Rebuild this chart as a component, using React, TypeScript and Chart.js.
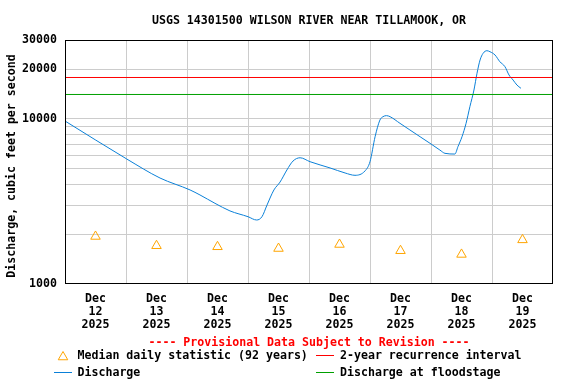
import React, { useEffect, useRef } from "react";
import { Chart, registerables } from "chart.js";

Chart.register(...registerables);

const titleText = "USGS 14301500 WILSON RIVER NEAR TILLAMOOK, OR";
const yAxisTitle = "Discharge, cubic feet per second";
const provisionalText = "---- Provisional Data Subject to Revision ----";

// hours since Dec 12 2025 00:00
const dischargeHours = [0, 24.3, 37.4, 49.2, 53.1, 59.0, 64.9, 72.0, 75.4, 77.5, 79.5, 82.2, 84.6, 87.3, 89.7, 92.5, 96.4, 104.3, 110.2, 114.1, 118.0, 120.0, 122.0, 123.9, 125.1, 126.5, 127.9, 131.8, 135.7, 139.7, 143.6, 147.5, 149.5, 153.4, 154.6, 156.2, 157.8, 159.3, 160.9, 162.1, 163.3, 164.5, 166.0, 167.2, 169.2, 171.1, 173.1, 174.7, 176.3, 177.8, 179.4];
const dischargeCfs = [9700, 5710, 4380, 3710, 3460, 3080, 2770, 2555, 2440, 2555, 3010, 3710, 4140, 4900, 5550, 5810, 5500, 5040, 4700, 4550, 4830, 5500, 7790, 9830, 10300, 10450, 10300, 9390, 8560, 7790, 7110, 6470, 6180, 6120, 6780, 7790, 9390, 11840, 14940, 18860, 22700, 24920, 25840, 25480, 24330, 22160, 20680, 18410, 17170, 16020, 15300];

const medianHours = [12, 36, 60, 84, 108, 132, 156, 180];
const medianCfs = [1940, 1705, 1680, 1640, 1735, 1590, 1510, 1850];

const recurrence2yr = 17790;
const floodstage = 14040;

const xMin = 0;
const xMax = 192;
const dayMonth = "Dec";
const dayNumbers = ["12", "13", "14", "15", "16", "17", "18", "19"];
const dayYear = "2025";

const yMin = 1000;
const yMax = 30000;
const yGridValues = [1000, 2000, 3000, 4000, 5000, 6000, 7000, 8000, 9000, 10000, 20000, 30000];
const yLabeledValues = [1000, 10000, 20000, 30000];

const legendMedian = "Median daily statistic (92 years)";
const legendRecurrence = "2-year recurrence interval";
const legendDischarge = "Discharge";
const legendFlood = "Discharge at floodstage";

const FONT = "'DejaVu Sans Mono', 'Liberation Mono', monospace";
const BLUE = "#0a80d8";
const RED = "#ff0000";
const GREEN = "#00a000";
const ORANGE = "#ffa500";
const GRID = "#cccccc";

function triangle(ctx: CanvasRenderingContext2D, x: number, y: number, r: number) {
  ctx.beginPath();
  ctx.moveTo(x, y - r);
  ctx.lineTo(x + r * Math.sin(Math.PI / 3), y + r * 0.5);
  ctx.lineTo(x - r * Math.sin(Math.PI / 3), y + r * 0.5);
  ctx.closePath();
  ctx.stroke();
}

function hline(ctx: CanvasRenderingContext2D, x0: number, x1: number, y: number, color: string) {
  ctx.strokeStyle = color;
  ctx.lineWidth = 1;
  ctx.beginPath();
  ctx.moveTo(x0, Math.floor(y) + 0.5);
  ctx.lineTo(x1, Math.floor(y) + 0.5);
  ctx.stroke();
}

const decorPlugin = {
  id: "decor",
  afterDraw(chart: any) {
    const ctx: CanvasRenderingContext2D = chart.ctx;
    const a = chart.chartArea;
    ctx.save();
    // frame
    ctx.strokeStyle = "#000";
    ctx.lineWidth = 1;
    ctx.strokeRect(Math.round(a.left) + 0.5, Math.round(a.top) + 0.5, Math.round(a.right - a.left) - 1, Math.round(a.bottom - a.top) - 1);

    ctx.font = `bold 11.6px ${FONT}`;
    ctx.fillStyle = "#000";
    ctx.textBaseline = "middle";
    // title
    ctx.textAlign = "center";
    const cx = (a.left + a.right) / 2;
    ctx.fillText(titleText, cx, 21);
    // y axis title
    ctx.save();
    ctx.translate(12, 166);
    ctx.rotate(-Math.PI / 2);
    ctx.fillText(yAxisTitle, 0, 0);
    ctx.restore();
    // provisional
    ctx.fillStyle = "#ff0000";
    ctx.fillText(provisionalText, cx, 342.5);

    // legend
    ctx.textAlign = "left";
    ctx.fillStyle = "#000";
    const r1 = 356;
    const r2 = 372.5;
    ctx.strokeStyle = ORANGE;
    ctx.lineWidth = 1;
    triangle(ctx, 63, r1 + 1, 5.5);
    ctx.fillText(legendMedian, 77.5, r1);
    ctx.fillText(legendDischarge, 77.5, r2);
    ctx.fillText(legendRecurrence, 340, r1);
    ctx.fillText(legendFlood, 340, r2);
    hline(ctx, 54, 72, 372, BLUE);
    hline(ctx, 316, 334, 355, RED);
    hline(ctx, 316, 334, 372, GREEN);
    ctx.restore();
  },
};

export default function App() {
  const ref = useRef<HTMLCanvasElement | null>(null);
  useEffect(() => {
    document.body.style.margin = "0";
    const canvas = ref.current;
    if (!canvas) return;
    const tickFont = { family: FONT, size: 11.6, weight: "bold" as const, lineHeight: 13 / 11.6 };
    const chart = new Chart(canvas, {
      type: "line",
      data: {
        datasets: [
          {
            label: legendRecurrence,
            data: [{ x: xMin, y: recurrence2yr }, { x: xMax, y: recurrence2yr }],
            borderColor: RED,
            borderWidth: 1,
            pointRadius: 0,
          },
          {
            label: legendFlood,
            data: [{ x: xMin, y: floodstage }, { x: xMax, y: floodstage }],
            borderColor: GREEN,
            borderWidth: 1,
            pointRadius: 0,
          },
          {
            label: legendDischarge,
            data: dischargeHours.map((h, i) => ({ x: h, y: dischargeCfs[i] })),
            borderColor: BLUE,
            borderWidth: 1,
            pointRadius: 0,
            cubicInterpolationMode: "monotone",
          },
          {
            label: legendMedian,
            data: medianHours.map((h, i) => ({ x: h, y: medianCfs[i] })),
            showLine: false,
            pointStyle: "triangle",
            pointRadius: 5.5,
            pointBorderWidth: 1,
            pointBorderColor: ORANGE,
            pointBackgroundColor: "rgba(0,0,0,0)",
            borderColor: ORANGE,
          },
        ],
      },
      options: {
        animation: false,
        responsive: false,
        devicePixelRatio: 1,
        layout: { padding: { left: 0, top: 40, right: 23, bottom: 0 } },
        plugins: { legend: { display: false }, title: { display: false }, tooltip: { enabled: false } },
        scales: {
          x: {
            type: "linear",
            min: xMin,
            max: xMax,
            afterBuildTicks: (scale: any) => {
              const t = [];
              for (let v = xMin; v <= xMax; v += 12) t.push({ value: v });
              scale.ticks = t;
            },
            afterFit: (scale: any) => {
              scale.height = 100;
            },
            border: { display: false },
            grid: {
              drawTicks: false,
              color: (c: any) => {
                const v = c.tick ? c.tick.value : 0;
                return v % 24 === 0 && v > xMin && v < xMax ? GRID : "rgba(0,0,0,0)";
              },
            },
            ticks: {
              autoSkip: false,
              maxRotation: 0,
              padding: 8,
              color: "#000",
              font: tickFont,
              callback: (value: any) => {
                const v = Number(value);
                if (v % 24 !== 12) return "";
                return [dayMonth, dayNumbers[Math.floor(v / 24)], dayYear];
              },
            },
          },
          y: {
            type: "logarithmic",
            min: yMin,
            max: yMax,
            afterBuildTicks: (scale: any) => {
              scale.ticks = yGridValues.map((v) => ({ value: v }));
            },
            afterFit: (scale: any) => {
              scale.width = 65;
            },
            border: { display: false },
            grid: {
              drawTicks: false,
              color: (c: any) => {
                const v = c.tick ? c.tick.value : 0;
                return v > yMin && v < yMax ? GRID : "rgba(0,0,0,0)";
              },
            },
            ticks: {
              autoSkip: false,
              padding: 8,
              color: "#000",
              font: tickFont,
              callback: (value: any) => {
                const v = Number(value);
                return yLabeledValues.includes(v) ? String(v) : "";
              },
            },
          },
        },
      },
      plugins: [decorPlugin],
    });
    return () => chart.destroy();
  }, []);
  return (
    <div style={{ position: "absolute", left: 0, top: 0 }}>
      <canvas ref={ref} width={576} height={384} style={{ width: 576, height: 384, display: "block" }} />
    </div>
  );
}
